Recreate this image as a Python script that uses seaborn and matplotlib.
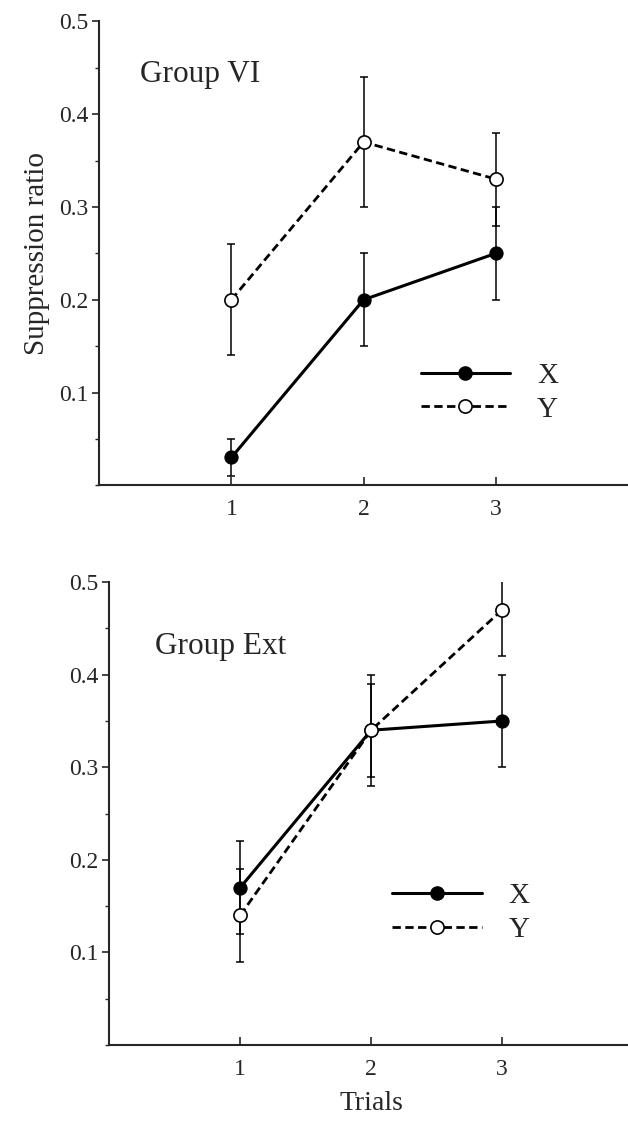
import numpy as np
import matplotlib.pyplot as plt
import seaborn as sns
from matplotlib.lines import Line2D
from matplotlib.ticker import MultipleLocator

# Data
trials = [1, 2, 3]

vi_x = [0.03, 0.20, 0.25]
vi_x_err = [0.02, 0.05, 0.05]
vi_y = [0.20, 0.37, 0.33]
vi_y_err = [0.06, 0.07, 0.05]

ext_x = [0.17, 0.34, 0.35]
ext_x_err = [0.05, 0.06, 0.05]
ext_y = [0.14, 0.34, 0.47]
ext_y_err = [0.05, 0.05, 0.05]

sns.set_style('ticks')
plt.rcParams['font.family'] = ['Liberation Serif', 'DejaVu Serif']

fig = plt.figure(figsize=(6.28, 11.26), dpi=100)
ax_top = fig.add_axes([0.158, 0.569, 0.842, 0.412])
ax_bot = fig.add_axes([0.174, 0.072, 0.834, 0.411])

dash = (0, (3, 1.6))


def draw_panel(ax, xs, xerr, ys, yerr, title, title_pos, legend_anchor):
    df = {'trial': trials, 'x': xs, 'y': ys}
    ax.errorbar(trials, xs, yerr=xerr, fmt='none', ecolor='black',
                elinewidth=1.1, capsize=3, capthick=1.1, zorder=2)
    ax.errorbar(trials, ys, yerr=yerr, fmt='none', ecolor='black',
                elinewidth=1.1, capsize=3, capthick=1.1, zorder=2)
    sns.lineplot(x='trial', y='x', data=df, ax=ax, color='black', lw=2.2,
                 marker='o', markersize=9.5, markerfacecolor='black',
                 markeredgecolor='black', zorder=3)
    sns.lineplot(x='trial', y='y', data=df, ax=ax, color='black', lw=2.0,
                 linestyle=dash, marker='o', markersize=9.5,
                 markerfacecolor='white', markeredgecolor='black',
                 markeredgewidth=1.2, zorder=4)
    ax.set_xlim(0, 4)
    ax.set_ylim(0, 0.5)
    ax.set_xticks(trials)
    ax.set_yticks([0.1, 0.2, 0.3, 0.4, 0.5])
    ax.set_yticklabels(['0.1', '0.2', '0.3', '0.4', '0.5'])
    ax.yaxis.set_minor_locator(MultipleLocator(0.05))
    ax.tick_params(axis='y', which='major', direction='out', length=5,
                   width=1.2, labelsize=17, pad=3)
    ax.tick_params(axis='y', which='minor', direction='out', length=3,
                   width=1.0)
    ax.tick_params(axis='x', which='major', direction='in', length=6,
                   width=1.2, labelsize=17, pad=10)
    sns.despine(ax=ax)
    for side in ['left', 'bottom']:
        ax.spines[side].set_linewidth(1.5)
    ax.set_xlabel('')
    ax.set_ylabel('')
    ax.text(title_pos[0], title_pos[1], title, transform=ax.transAxes,
            fontsize=22.5, ha='left', va='center')

    handles = [
        Line2D([], [], color='black', lw=2.2, marker='o', markersize=9.5,
               markerfacecolor='black'),
        Line2D([], [], color='black', lw=2.0, linestyle=dash,
               marker='o', markersize=9.5, markerfacecolor='white',
               markeredgewidth=1.2),
    ]
    ax.legend(handles, ['X', 'Y'], frameon=False, loc='center left',
              bbox_to_anchor=legend_anchor, fontsize=21, handlelength=3.08,
              handletextpad=0.92, labelspacing=0.25, borderpad=0.4)


draw_panel(ax_top, vi_x, vi_x_err, vi_y, vi_y_err, 'Group VI',
           (0.078, 0.886), (0.558, 0.2))
draw_panel(ax_bot, ext_x, ext_x_err, ext_y, ext_y_err, 'Group Ext',
           (0.088, 0.862), (0.49, 0.285))

ax_top.set_ylabel('Suppression ratio', fontsize=21, labelpad=6)
ax_bot.set_xlabel('Trials', fontsize=20, labelpad=8)

fig.savefig('out.png', dpi=100)
